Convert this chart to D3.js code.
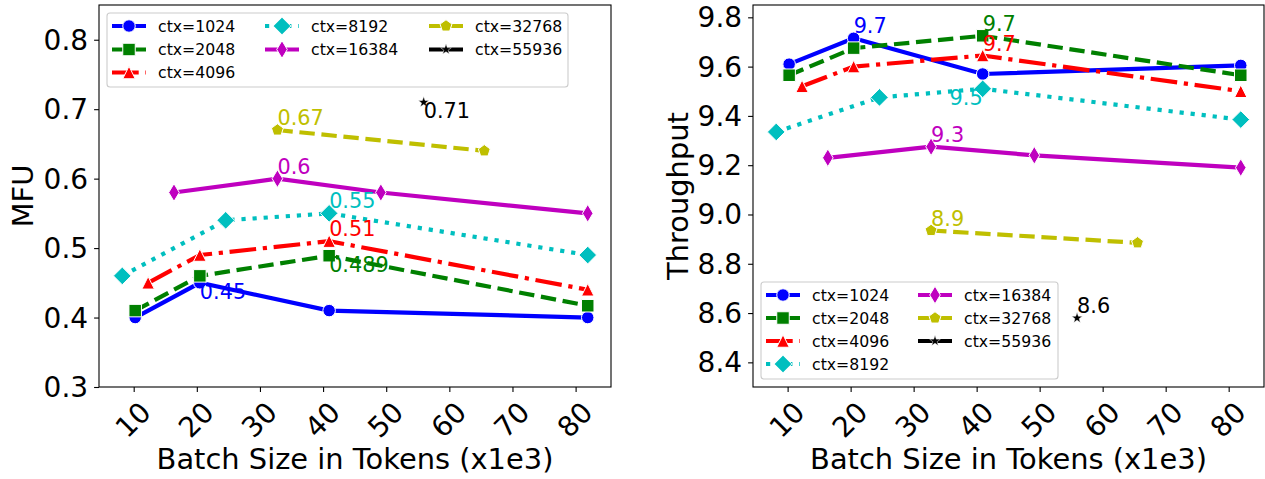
<!DOCTYPE html>
<html><head><meta charset="utf-8">
<script src="https://cdn.jsdelivr.net/npm/d3@7"></script>
<style>body{margin:0;background:#fff} svg{display:block} text{font-family:"DejaVu Sans",sans-serif}</style>
</head><body>
<svg id="c" width="1265" height="479"></svg>
<script>
// ---------- data ----------
const contexts = ["ctx=1024","ctx=2048","ctx=4096","ctx=8192","ctx=16384","ctx=32768","ctx=55936"];
const batch1024  = [10.24, 20.48, 40.96, 81.92];
const batch2048  = [10.24, 20.48, 40.96, 81.92];
const batch4096  = [12.288, 20.48, 40.96, 81.92];
const batch8192  = [8.192, 24.576, 40.96, 81.92];
const batch16384 = [16.384, 32.768, 49.152, 81.92];
const batch32768 = [32.768, 65.536];
const batch55936 = [55.936];

const mfu1024  = [0.40, 0.45, 0.41, 0.40];
const mfu2048  = [0.41, 0.46, 0.489, 0.417];
const mfu4096  = [0.45, 0.49, 0.51, 0.44];
const mfu8192  = [0.46, 0.54, 0.55, 0.49];
const mfu16384 = [0.58, 0.60, 0.58, 0.55];
const mfu32768 = [0.67, 0.64];
const mfu55936 = [0.71];

const tput1024  = [9.61, 9.715, 9.57, 9.605];
const tput2048  = [9.565, 9.675, 9.725, 9.565];
const tput4096  = [9.52, 9.60, 9.645, 9.50];
const tput8192  = [9.335, 9.475, 9.51, 9.385];
const tput16384 = [9.23, 9.275, 9.24, 9.19];
const tput32768 = [8.935, 8.885];
const tput55936 = [8.58];

const xTicks = [10, 20, 30, 40, 50, 60, 70, 80];
const mfuTicks = [0.3, 0.4, 0.5, 0.6, 0.7, 0.8];
const tputTicks = [8.4, 8.6, 8.8, 9.0, 9.2, 9.4, 9.6, 9.8];

// annotation texts (one per series, at its peak point)
const mfuPeakIndex = [1, 2, 2, 2, 1, 0, 0];
const mfuPeakLabels = ["0.45", "0.489", "0.51", "0.55", "0.6", "0.67", "0.71"];
const tputPeakIndex = [1, 2, 2, 2, 1, 0, 0];
const tputPeakLabels = ["9.7", "9.7", "9.7", "9.5", "9.3", "8.9", "8.6"];

// ---------- styles ----------
const colors = ["#0000ff", "#008000", "#ff0000", "#00bfbf", "#bf00bf", "#bfbf00", "#000000"];
const dashes = [null, "15.4,6.7", "26.7,6.7,4.2,6.7", "4.2,6.9", null, "15.4,6.7", null];
const markers = ["o", "s", "^", "D", "d", "p", "*"];
const mfuPlace = ["top", "top", "bottom", "bottom", "bottom", "bottom", "top"];
const tputPlace = ["bottom", "bottom", "bottom", "top-right", "bottom", "bottom", "bottom"];

const batches = [batch1024, batch2048, batch4096, batch8192, batch16384, batch32768, batch55936];
const mfus = [mfu1024, mfu2048, mfu4096, mfu8192, mfu16384, mfu32768, mfu55936];
const tputs = [tput1024, tput2048, tput4096, tput8192, tput16384, tput32768, tput55936];

const FONT_TICK = 28, FONT_LABEL = 28.9, FONT_ANN = 20.8, FONT_LEG = 15.7;
const LW = 4.2, MS = 12.5;

function markerPath(type, s) {
  const r = s / 2;
  switch (type) {
    case "o": return `M${r},0A${r},${r} 0 1,1 ${-r},0A${r},${r} 0 1,1 ${r},0Z`;
    case "s": return `M${-r},${-r}H${r}V${r}H${-r}Z`;
    case "^": return `M0,${-r}L${r},${r}L${-r},${r}Z`;
    case "D": { const h = r * Math.SQRT2; return `M0,${-h}L${h},0L0,${h}L${-h},0Z`; }
    case "d": { const h = r * Math.SQRT2; const w = 0.6 * h; return `M0,${-h}L${w},0L0,${h}L${-w},0Z`; }
    case "p": {
      let p = "";
      for (let i = 0; i < 5; i++) { const a = -Math.PI / 2 + i * 2 * Math.PI / 5; p += (i ? "L" : "M") + (r * Math.cos(a)).toFixed(2) + "," + (r * Math.sin(a)).toFixed(2); }
      return p + "Z";
    }
    case "*": {
      const R = r * 0.9, ri = R * 0.40; let p = "";
      for (let i = 0; i < 10; i++) { const a = -Math.PI / 2 + i * Math.PI / 5; const rr = i % 2 ? ri : R; p += (i ? "L" : "M") + (rr * Math.cos(a)).toFixed(2) + "," + (rr * Math.sin(a)).toFixed(2); }
      return p + "Z";
    }
  }
}

const svg = d3.select("#c");

function drawPanel(cfg) {
  const { left, right, top, bottom, yDomain, yTicks, values, peakIdx, peakLabels, place, ylabel, ylabelX, legend } = cfg;
  const allX = batches.flat();
  const xmin = d3.min(allX), xmax = d3.max(allX), m = (xmax - xmin) * 0.05;
  const x = d3.scaleLinear().domain([xmin - m, xmax + m]).range([left, right]);
  const y = d3.scaleLinear().domain(yDomain).range([bottom, top]);
  const g = svg.append("g");

  const cid = "clip" + left;
  svg.append("clipPath").attr("id", cid).append("rect").attr("x", left).attr("y", top).attr("width", right - left).attr("height", bottom - top);

  // x axis
  const xa = g.append("g").attr("transform", `translate(0,${bottom})`)
    .call(d3.axisBottom(x).tickValues(xTicks).tickSize(4.9).tickPadding(3).tickFormat(d3.format("d")));
  xa.select(".domain").remove();
  xa.selectAll(".tick line").attr("stroke", "#000").attr("stroke-width", 1.1);
  xa.selectAll(".tick text").attr("font-size", FONT_TICK).attr("font-family", "DejaVu Sans").attr("fill", "#000")
    .attr("text-anchor", "middle").attr("dominant-baseline", "central").attr("y", 0).attr("dy", null)
    .attr("transform", "translate(-1,33) rotate(-45)");

  // y axis
  const ya = g.append("g").attr("transform", `translate(${left},0)`)
    .call(d3.axisLeft(y).tickValues(yTicks).tickSize(4.9).tickPadding(6).tickFormat(d3.format(".1f")));
  ya.select(".domain").remove();
  ya.selectAll(".tick line").attr("stroke", "#000").attr("stroke-width", 1.1);
  ya.selectAll(".tick text").attr("font-size", FONT_TICK).attr("font-family", "DejaVu Sans").attr("fill", "#000")
    .attr("dominant-baseline", "central").attr("dy", null);

  // frame
  g.append("rect").attr("x", left).attr("y", top).attr("width", right - left).attr("height", bottom - top)
    .attr("fill", "none").attr("stroke", "#000").attr("stroke-width", 1.1);

  // labels
  g.append("text").attr("x", (left + right) / 2).attr("y", 469).attr("text-anchor", "middle")
    .attr("font-size", FONT_LABEL).text("Batch Size in Tokens (x1e3)");
  g.append("text").attr("transform", `translate(${ylabelX},${(top + bottom) / 2}) rotate(-90)`).attr("text-anchor", "middle")
    .attr("font-size", FONT_LABEL).text(ylabel);

  // series
  const plot = g.append("g").attr("clip-path", `url(#${cid})`);
  const line = d3.line().x(d => x(d[0])).y(d => y(d[1]));
  contexts.forEach((c, i) => {
    const pts = batches[i].map((b, j) => [b, values[i][j]]);
    const sg = plot.append("g");
    if (pts.length > 1) {
      sg.append("path").attr("d", line(pts)).attr("fill", "none").attr("stroke", colors[i])
        .attr("stroke-width", LW).attr("stroke-dasharray", dashes[i]);
    }
    sg.selectAll("path.m").data(pts).enter().append("path").attr("class", "m")
      .attr("transform", d => `translate(${x(d[0])},${y(d[1])})`)
      .attr("d", markerPath(markers[i], MS)).attr("fill", colors[i])
      .attr("stroke", "#fff").attr("stroke-width", markers[i] === "*" ? 0.5 : 1);
  });

  // annotations
  contexts.forEach((c, i) => {
    const j = peakIdx[i];
    const px = x(batches[i][j]), py = y(values[i][j]);
    const p = place[i];
    const t = g.append("text").attr("font-size", FONT_ANN).attr("fill", colors[i]).text(peakLabels[i]);
    t.attr("x", px).attr("y", p.startsWith("top") ? py + 0.76 * FONT_ANN : py - 0.236 * FONT_ANN)
      .attr("text-anchor", p.endsWith("right") ? "end" : "start");
  });

  // legend
  const L = legend;
  const lg = g.append("g");
  lg.append("rect").attr("x", L.x).attr("y", L.y).attr("width", L.w).attr("height", L.h).attr("rx", 3)
    .attr("fill", "#fff").attr("fill-opacity", 0.8).attr("stroke", "#cccccc").attr("stroke-width", 1.1);
  contexts.forEach((c, i) => {
    let col = 0, row = i, acc = 0;
    for (let k = 0; k < L.cols.length; k++) { if (i < acc + L.cols[k]) { col = k; row = i - acc; break; } acc += L.cols[k]; }
    const hx = L.colX[col], hy = L.rowY[row];
    const e = lg.append("g");
    e.append("line").attr("x1", hx).attr("x2", hx + 34).attr("y1", hy).attr("y2", hy)
      .attr("stroke", colors[i]).attr("stroke-width", LW).attr("stroke-dasharray", dashes[i]);
    e.append("path").attr("transform", `translate(${hx + 17},${hy})`).attr("d", markerPath(markers[i], MS))
      .attr("fill", colors[i]).attr("stroke", "#fff").attr("stroke-width", markers[i] === "*" ? 0.5 : 1);
    e.append("text").attr("x", hx + 46).attr("y", hy).attr("dominant-baseline", "central")
      .attr("font-size", FONT_LEG).text(c);
  });
}

drawPanel({
  left: 99, right: 611, top: 5, bottom: 387,
  yDomain: [0.3, 0.85], yTicks: mfuTicks, values: mfus,
  peakIdx: mfuPeakIndex, peakLabels: mfuPeakLabels, place: mfuPlace,
  ylabel: "MFU", ylabelX: 33,
  legend: { x: 107, y: 13, w: 461, h: 74, cols: [3, 2, 2], colX: [112, 265, 429], rowY: [26, 49.5, 72.5] }
});
drawPanel({
  left: 753, right: 1264, top: 5, bottom: 387,
  yDomain: [8.3, 9.85], yTicks: tputTicks, values: tputs,
  peakIdx: tputPeakIndex, peakLabels: tputPeakLabels, place: tputPlace,
  ylabel: "Throughput", ylabelX: 688,
  legend: { x: 761, y: 282, w: 297, h: 97, cols: [4, 3], colX: [766, 918], rowY: [295, 318, 341, 364] }
});
</script>
</body></html>
